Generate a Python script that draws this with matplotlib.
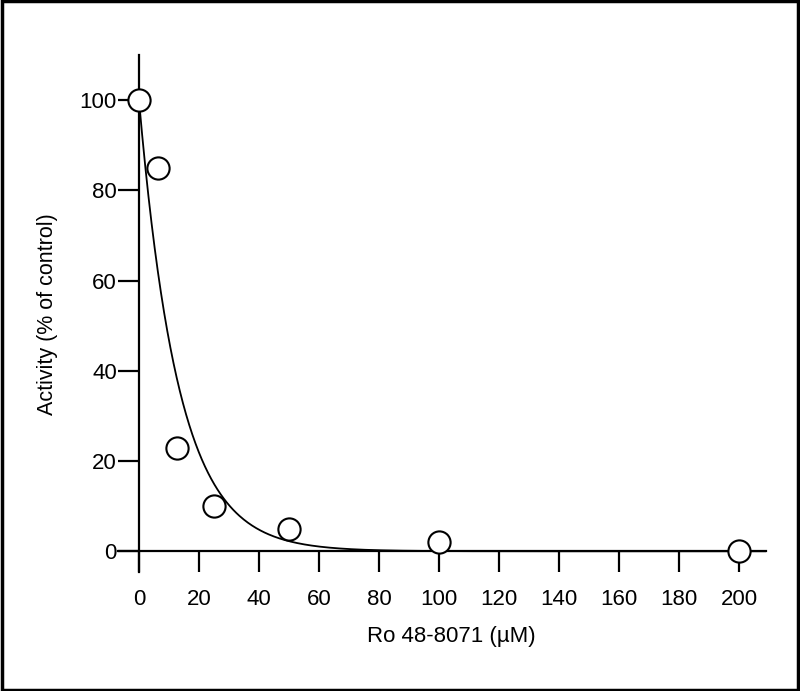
import numpy as np
import matplotlib.pyplot as plt
from matplotlib.patches import Rectangle

plt.rcParams['font.family'] = ['Liberation Sans', 'DejaVu Sans']

# Measured activity vs Ro 48-8071 concentration
conc = [0, 6.25, 12.5, 25, 50, 100, 200]
activity = [100, 85, 23, 10, 5, 2, 0]

x_ticks = [0, 20, 40, 60, 80, 100, 120, 140, 160, 180, 200]
y_ticks = [0, 20, 40, 60, 80, 100]

# exponential decay fit parameters
fit_a = 100.0
fit_k = 0.076


def decay(x, a, k):
    return a * np.exp(-k * x)


fig = plt.figure(figsize=(8, 6.91), dpi=100)
ax = fig.add_axes([0.1475, 0.1722, 0.81, 0.748])

x_plot = np.linspace(0, 209, 600)
ax.plot(x_plot, decay(x_plot, fit_a, fit_k), color='black', lw=1.3, zorder=2)
ax.plot(conc, activity, 'o', ms=16, mfc='white', mec='black', mew=1.5,
        clip_on=False, zorder=3)

ax.set_xlim(-7, 209)
ax.set_ylim(-4.6, 110)
ax.spines['left'].set_position(('data', 0))
ax.spines['bottom'].set_position(('data', 0))
ax.spines['top'].set_visible(False)
ax.spines['right'].set_visible(False)
for s in ['left', 'bottom']:
    ax.spines[s].set_linewidth(1.6)

ax.set_xticks(x_ticks)
ax.set_yticks(y_ticks)
ax.tick_params(axis='x', direction='out', length=15, width=1.6,
               labelsize=16, pad=12)
ax.tick_params(axis='y', direction='out', length=15, width=1.6,
               labelsize=16, pad=1)

fig.text(0.564, 0.079, 'Ro 48-8071 (µM)', ha='center', va='center', fontsize=16)
fig.text(0.059, 0.545, 'Activity (% of control)', ha='center', va='center',
         rotation=90, fontsize=15.5)

# outer frame
fig.patches.append(Rectangle((0.002, 0.002), 0.996, 0.996, transform=fig.transFigure,
                             fill=False, edgecolor='black', lw=2.5))

fig.savefig('out.png', dpi=100)
